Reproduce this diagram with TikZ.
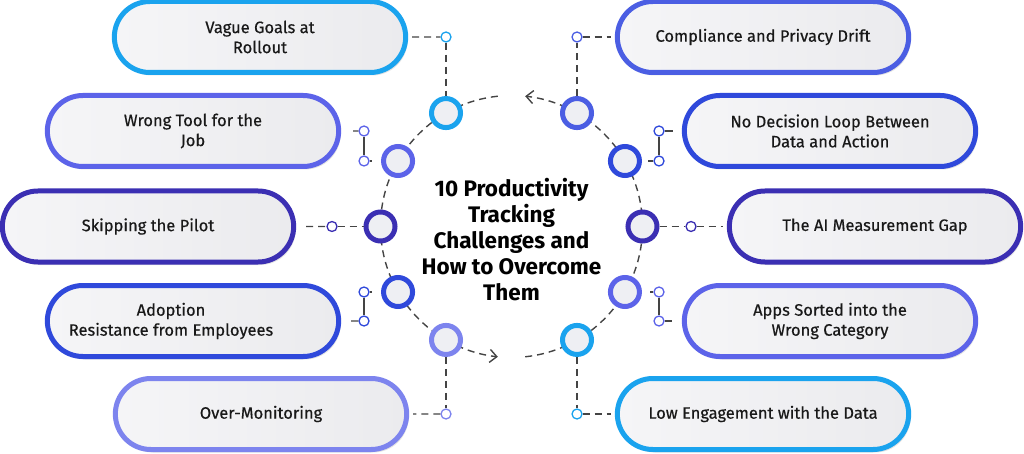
\documentclass[tikz,border=0pt]{standalone}
\usepackage{fontspec}
\setmainfont{Fira Sans}
\newfontfamily\boxfont{Fira Sans}[FakeBold=0.5]
\usepackage{tikz}
\usetikzlibrary{shapes.misc, arrows.meta, calc, shadows}
\definecolor{skyc}{HTML}{1AA3EE}
\definecolor{violetc}{HTML}{5C63E9}
\definecolor{indigoc}{HTML}{3B2FB3}
\definecolor{royalc}{HTML}{2F49DB}
\definecolor{lavc}{HTML}{7D84EE}
\definecolor{compc}{HTML}{4B5EE3}
\definecolor{linkgray}{HTML}{444444}
\definecolor{boxfill}{HTML}{EEEFF3}
\definecolor{boxlight}{HTML}{F5F5F7}
\definecolor{boxdark}{HTML}{EBEBEE}

\begin{document}
\begin{tikzpicture}[
    x=1pt, y=-1pt,
    box/.style={rounded rectangle, minimum width=298pt, minimum height=71pt,
                draw=#1, line width=5pt, left color=boxlight, right color=boxdark,
                drop shadow={shadow xshift=2pt, shadow yshift=-3pt, opacity=0.22},
                font=\boxfont\fontsize{16.5}{20}\selectfont, align=center, text=black!90},
    boxtext/.style={font=\boxfont\fontsize{16.5}{20}\selectfont, align=center, text=black!90},
    ring/.style={circle, minimum size=29pt, inner sep=0pt, line width=5pt,
                 draw=#1, fill=boxfill},
    dot/.style={circle, minimum size=10pt, inner sep=0pt, line width=1.3pt,
                draw=#1, fill=white},
    link/.style={linkgray, line width=1.4pt, dash pattern=on 7pt off 5pt},
    stub/.style={linkgray, line width=1.4pt},
    tip/.style={-{Straight Barb[length=7pt, width=13pt]}},
    title/.style={font=\bfseries\fontsize{22.5}{26}\selectfont, align=center}
]
\useasboundingbox (0,0) rectangle (1024,454);
\coordinate (C) at (511.5,226.5);

% Cycle
\draw[link, tip] ($(C)+(-60:131)$) arc[start angle=-60, end angle=-84, radius=131];
\draw[link] ($(C)+(-96:131)$) arc[start angle=-96, end angle=-240, radius=131];
\draw[link, tip] ($(C)+(-240:131)$) arc[start angle=-240, end angle=-264, radius=131];
\draw[link] ($(C)+(-276:131)$) arc[start angle=-276, end angle=-420, radius=131];

\foreach \ang/\col/\nm in {120/skyc/vague, 150/violetc/wrong, 180/indigoc/skip,
    210/royalc/adopt, 240/lavc/over, 60/compc/comp, 30/royalc/decide,
    0/indigoc/ai, 330/violetc/apps, 300/skyc/low}
  \node[ring=\col] (\nm-c) at ($(C)+(-\ang:131)$) {};

\node[title] (ttl) at (511.5,239.5) {10 Productivity\\Tracking\\Challenges and\\How to Overcome\\Them};

% Left side
\node[box=skyc] (vague) at (260,37) {Vague Goals at\\Rollout};
\node[box=violetc] (wrong) at (193,131) {Wrong Tool for the\\Job};
\node[box=indigoc] (skip) at (148,226.5) {Skipping the Pilot};
\node[box=royalc] (adopt) at (193,321) {};
\node[boxtext] (adopt-t) at (171,321) {Adoption\\Resistance from Employees};
\node[box=lavc] (over) at (261,414) {Over-Monitoring};

% Right side
\node[box=compc] (comp) at (763,37) {Compliance and Privacy Drift};
\node[box=royalc] (decide) at (830,131) {No Decision Loop Between\\Data and Action};
\node[box=indigoc] (ai) at (875,226.5) {The AI Measurement Gap};
\node[box=violetc] (apps) at (830,321) {Apps Sorted into the\\Wrong Category};
\node[box=skyc] (low) at (763,414) {Low Engagement with the Data};

% Left connectors
\node[dot=skyc] (vague-d) at (446,37) {};
\draw[link, shorten <=4pt] (vague) -- (vague-d);
\draw[link] (vague-d) -- (vague-c);

\node[dot=violetc] (wrong-d1) at (364,131) {};
\node[dot=violetc] (wrong-d2) at (364,161) {};
\draw[stub, shorten <=12pt] (wrong) -- (wrong-d1);
\draw[stub] (wrong-d1) -- (wrong-d2);
\draw[stub, shorten >=9pt] (wrong-d2) -- (wrong-c);

\node[dot=indigoc] (skip-d) at (332,226.5) {};
\draw[link, shorten <=10pt] (skip) -- (skip-d);
\draw[link] (skip-d) -- (skip-c);

\node[dot=royalc] (adopt-d1) at (364,292) {};
\node[dot=royalc] (adopt-d2) at (364,321) {};
\draw[stub, shorten >=9pt] (adopt-d1) -- (adopt-c);
\draw[stub] (adopt-d1) -- (adopt-d2);
\draw[stub, shorten <=10pt] (adopt) -- (adopt-d2);

\node[dot=lavc] (over-d) at (446,414) {};
\draw[link] (over-c) -- (over-d);
\draw[link, shorten >=4pt] (over-d) -- (over);

% Right connectors
\node[dot=compc] (comp-d) at (577,37) {};
\draw[link] (comp-c) -- (comp-d);
\draw[link, shorten >=4pt] (comp-d) -- (comp);

\node[dot=royalc] (decide-d1) at (659,131) {};
\node[dot=royalc] (decide-d2) at (659,161) {};
\draw[stub, shorten >=9pt] (decide-d1) -- (decide);
\draw[stub] (decide-d1) -- (decide-d2);
\draw[stub, shorten >=6pt] (decide-d2) -- (decide-c);

\node[dot=indigoc] (ai-d) at (691,226.5) {};
\draw[link] (ai-c) -- (ai-d);
\draw[link, shorten >=4pt] (ai-d) -- (ai);

\node[dot=violetc] (apps-d1) at (659,292) {};
\node[dot=violetc] (apps-d2) at (659,321) {};
\draw[stub, shorten >=8pt] (apps-d1) -- (apps-c);
\draw[stub] (apps-d1) -- (apps-d2);
\draw[stub, shorten >=10pt] (apps-d2) -- (apps);

\node[dot=skyc] (low-d) at (577,414) {};
\draw[link] (low-c) -- (low-d);
\draw[link, shorten >=4pt] (low-d) -- (low);

\end{tikzpicture}
\end{document}
